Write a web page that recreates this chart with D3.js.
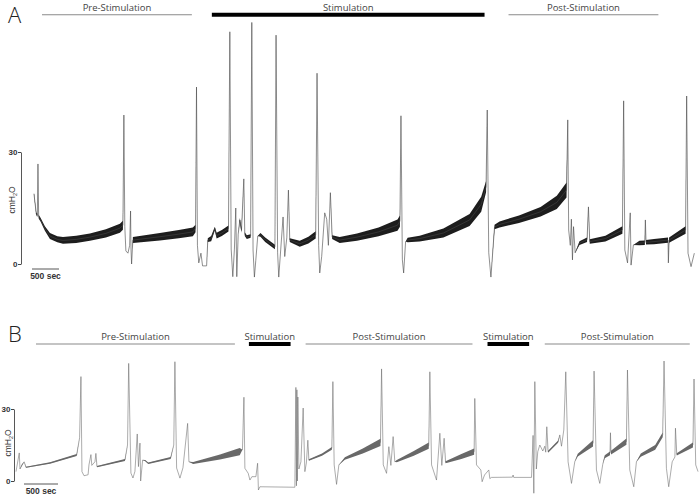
<!DOCTYPE html>
<html><head><meta charset="utf-8">
<script src="https://cdn.jsdelivr.net/npm/d3@7"></script>
<style>body{margin:0;background:#fff}svg{display:block}</style>
</head><body>
<svg id="c" width="700" height="496"></svg>
<script>
// ---- data: [time (sec), pressure (cmH2O), noise half-band (cmH2O)] ----
const traceA = [
[18,18.8,0.3],[60,13.5,0.3],[80,13.0,0.5],[92,26.8,0],[105,12.7,0.5],[142,11.8,0.5],[220,9.5,0.6],[314,7.5,0.8],
[450,6.6,0.8],[555,6.3,0.9],[800,6.6,1.0],[1054,7.2,1.0],[1350,8.2,1.1],[1610,9.6,1.2],[1665,10.4,1.2],[1683,39.9,0],
[1700,10,0],[1720,3.5,0],[1758,2.9,0],[1790,5,0],[1807,14.2,0],[1815,4,0],[1826,0,0],[1840,4,0],[1850,6.4,0.8],
[2350,7.3,1.0],[2700,8.0,1.1],[2960,8.6,1.2],[3010,9.5,1],[3028,47.4,0],[3045,5,0],[3070,0.3,0],[3110,2.9,0],
[3140,-0.5,0],[3215,-0.5,0],[3237,6.4,0.5],[3300,6.8,0.7],[3367,9.5,0.5],[3400,7.6,0.8],[3497,8.3,0.8],[3620,9.5,0.8],
[3645,62.2,0],[3670,4,0],[3700,-3.4,0],[3730,4,0],[3755,15,0],[3774,-3.4,0],[3800,8,0],[3830,11.8,0.5],[3861,9.0,0.6],
[3904,22.8,0],[3922,8.0,0.5],[3959,7.2,0.5],[4030,7.5,0.5],[4052,64.7,0],[4075,3.75,0],[4100,-3.5,0],[4126,1,0],
[4162,7.5,0],[4212,7.8,0.5],[4300,6.5,0.6],[4480,4.55,0.6],[4501,61.3,0],[4530,3,0],[4551,-3.5,0],[4588,4,0],
[4631,12.6,0],[4662,2,0],[4700,7,0],[4730,19.8,0],[4755,6.4,0.5],[4940,5.4,0.8],[5100,6.4,0.9],[5235,7.8,1.0],
[5260,51.1,0],[5290,5,0],[5310,-2.4,0],[5346,2,0],[5402,13.7,0],[5439,12,0],[5470,5,0],[5507,19.1,0],[5540,7.2,0.5],
[5680,6.4,0.8],[6000,7.2,1.0],[6400,8.6,1.2],[6750,10.4,1.5],[6795,11.5,1.5],[6814,39.7,0],[6840,1.1,0],[6864,-2.4,0],
[6900,6.0,0],[6938,6.4,0.6],[7160,6.8,0.8],[7600,8.3,1.2],[8085,11.8,1.6],[8300,16,2],[8390,20.7,1.5],[8412,41.25,0],
[8440,3,0],[8480,-3.5,0],[8547,9.9,0.6],[8640,10.6,0.8],[9000,12,1.0],[9400,14,1.3],[9700,16.5,1.8],[9880,19.8,2],
[9903,38.6,0],[9920,9.1,0],[9950,5,0],[9970,12,0],[9990,1.1,0],[10010,10,0],[10040,3,0],[10120,5.6,0.5],[10260,6.5,0.6],
[10286,15.3,0],[10310,6.0,0.6],[10600,6.8,0.8],[10915,9.1,1.0],[10938,43.7,0],[10960,3.75,0],[11010,0.3,0],[11060,13.7,0],
[11075,-0.3,0],[11118,5.1,0],[11230,5.6,0.6],[11330,5.7,0.6],[11340,11.8,0],[11353,5.8,0.6],[11500,6.0,0.7],[11760,6.4,0.7],
[11766,0.3,0],[11780,6.4,0.7],[12085,9.1,1.0],[12105,45,0],[12130,2.9,0],[12186,-0.7,0],[12247,2.9,0]
];
const traceB = [
[0,3.9,0],[48,11.7,0],[59,5,0],[88,6.7,0.3],[120,8,0],[147,5.7,0.2],[500,7.5,0.3],[892,10.8,0.4],[935,18,0],[955,43.5,0],
[970,3.9,0],[1000,2.2,0],[1060,2.6,0],[1073,6.7,0],[1102,11,0],[1115,6.5,0],[1161,8,0],[1175,11.5,0],[1191,6,0.3],
[1602,8.75,0.4],[1640,15,0],[1657,49,0],[1690,3.3,0],[1720,1.25,0],[1749,4,0],[1783,19.6,0],[1801,6,0],[1823,15.8,0],
[1833,0,0],[1862,8.75,0],[1900,8.5,0.3],[1945,7.4,0.3],[2274,9.6,0.4],[2320,15,0],[2337,49.7,0],[2362,5.4,0],[2411,1.2,0],
[2455,5.5,0],[2524,24,0],[2543,8,0],[2606,7.5,0.4],[3000,10,1.0],[3290,12.2,1.5],[3330,13,0],[3352,34.9,0],[3366,5.3,0],
[3415,3.2,0],[3440,0.4,0],[3469,1.8,0],[3528,1.8,0],[3553,7.4,0],[3565,-3.75,0],[3587,-2.4,0],[4101,-2.6,0],[4116,39,0],
[4124,-2,0],[4131,38,0],[4138,0,0],[4145,35,0],[4160,5,0],[4190,8,0],[4223,30.4,0],[4248,3.9,0],[4270,7.5,0],[4292,17,0],
[4307,8.75,0.3],[4500,11,0.5],[4645,13.6,0.6],[4660,41.4,0],[4679,6.7,0],[4714,-1.4,0],[4748,6.7,0],[4836,9.4,0.5],
[5100,12.5,1.0],[5360,16.1,1.5],[5376,46.7,0],[5401,6.7,0],[5449,3.2,0],[5483,14.3,0],[5513,6.5,0],[5546,18.5,0],[5571,8,0],
[5600,8.3,0.5],[5850,11.5,1.0],[6070,14.7,1.3],[6086,45.5,0],[6111,6.7,0],[6184,0.4,0],[6233,19.9,0],[6262,6.5,0],
[6296,17.8,0],[6317,7.8,0.4],[6550,10.2,1.0],[6737,12.2,1.3],[6747,34.4,0],[6772,6.7,0],[6836,4.6,0],[6855,-0.3,0],
[6890,2.5,0],[6953,4.6,0],[6968,1.0,0],[6993,1.5,0],[7300,1.6,0],[7310,2.5,0],[7320,1.5,0],[7581,1.5,0],[7604,19,0],
[7615,-5.1,0],[7630,41.4,0],[7652,5,0],[7673,12.2,0],[7703,15,0],[7747,12.5,0],[7776,14.5,0],[7790,12,0],[7806,22.6,0],
[7825,12.2,0.4],[7972,16.4,0.5],[7997,19.2,0],[8022,14.5,0],[8056,21.25,0],[8085,45.5,0],[8119,8,0],[8169,-1,0],[8217,8,0],
[8261,10.8,0.6],[8486,15.7,1.3],[8501,45.8,0],[8536,4.6,0],[8585,-1,0],[8629,7,0],[8658,10.1,0.6],[8735,11.5,0.8],
[8742,20.1,0],[8750,11.8,0.8],[8977,16.4,1.3],[8992,46.25,0],[9026,4.6,0],[9085,-2.4,0],[9124,8,0],[9188,10.8,0.7],
[9400,14,1.0],[9510,19.2,1.0],[9530,50,0],[9565,5.3,0],[9599,-2.4,0],[9650,8,0],[9690,10,0],[9698,22,0],[9717,11.1,0.5],
[9955,15,1.0],[9971,42.5,0],[9996,6.7,0],[10030,3.9,0]
];
// phase annotations: [label, start sec, end sec, kind]
const phasesA = [["Pre-Stimulation",167,2942,"thin"],["Stimulation",3312,8362,"bar"],["Post-Stimulation",8806,11581,"thin"]];
const phasesB = [["Pre-Stimulation",294,3219,"thin"],["Stimulation",3425,4038,"bar"],["Post-Stimulation",4259,6713,"thin"],
                 ["Stimulation",6934,7546,"bar"],["Post-Stimulation",7776,9908,"thin"]];
const yTicks = [0, 30];
const scaleBarSec = 500;

const svg = d3.select("#c");

function panel(cfg){
  const g = svg.append("g");
  const x = d3.scaleLinear().domain([0, cfg.tMax]).range([cfg.x0, cfg.x1]);
  const y = d3.scaleLinear().domain([0, 30]).range([cfg.y0, cfg.y30]);
  g.append("text").attr("x", 8).attr("y", cfg.letterY).text(cfg.letter)
    .style("font-family","'Open Sans',sans-serif").style("font-weight",300).style("font-size","22px").attr("fill","#222");
  cfg.phases.forEach(p=>{
    const xa = x(p[1]), xb = x(p[2]);
    g.append("line").attr("x1",xa).attr("x2",xb).attr("y1",cfg.barY).attr("y2",cfg.barY)
      .attr("stroke", p[3]==="bar" ? "#000" : "#8a8a8a").attr("stroke-width", p[3]==="bar" ? 4 : 1.1);
    g.append("text").attr("x",(xa+xb)/2).attr("y",cfg.barY-4).attr("text-anchor","middle").text(p[0])
      .style("font-family","'Open Sans',sans-serif").style("font-size","9.5px").attr("fill","#444");
  });
  const ax = g.append("g").attr("transform",`translate(${cfg.axisX},0)`)
    .call(d3.axisLeft(y).tickValues(yTicks).tickSize(3).tickSizeOuter(0));
  ax.select(".domain").attr("stroke","#444").attr("stroke-width",0.9);
  ax.selectAll(".tick line").attr("stroke","#444");
  ax.selectAll(".tick text").attr("dx","0.3em").style("font-family","'Liberation Sans',Arial,sans-serif")
    .style("font-weight","bold").style("font-size","8px").attr("fill","#333");
  const lab = g.append("text").attr("transform",`translate(${cfg.labX},${cfg.labY}) rotate(-90)`)
    .attr("text-anchor","middle").style("font-family","'Liberation Sans',Arial,sans-serif")
    .style("font-size","8.5px").attr("fill","#333");
  lab.append("tspan").text("cmH");
  lab.append("tspan").text("2").attr("dy","2").style("font-size","5.5px");
  lab.append("tspan").text("O").attr("dy","-2");
  const sbx = cfg.sbX, sbw = x(scaleBarSec)-x(0);
  g.append("line").attr("x1",sbx).attr("x2",sbx + sbw).attr("y1",cfg.sbY).attr("y2",cfg.sbY)
    .attr("stroke","#444").attr("stroke-width",0.9);
  g.append("text").attr("x",sbx + sbw/2).attr("y",cfg.sbY+10).attr("text-anchor","middle")
    .text(scaleBarSec+" sec").style("font-family","'Liberation Sans',Arial,sans-serif")
    .style("font-weight","bold").style("font-size","8.5px").attr("fill","#333");
  const area = d3.area().x(d=>x(d[0])).y0(d=>y(d[1]-d[2])).y1(d=>y(d[1]+d[2]));
  g.append("path").datum(cfg.data).attr("d",area).attr("fill",cfg.bandColor).attr("fill-opacity",cfg.bandOp);
  const line = d3.line().x(d=>x(d[0])).y(d=>y(d[1]));
  g.append("path").datum(cfg.data).attr("d",line).attr("fill","none")
    .attr("stroke",cfg.lineColor).attr("stroke-width",cfg.lineW).attr("stroke-linejoin","miter").attr("stroke-miterlimit",2);
}

panel({letter:"A", letterY:23, data:traceA, phases:phasesA, tMax:12000, x0:33, x1:33+648,
  y0:264, y30:152, barY:14.7, axisX:21, labX:15, labY:200, sbX:32, sbY:269,
  bandColor:"#111", bandOp:0.95, lineColor:"#444", lineW:0.6});
panel({letter:"B", letterY:342, data:traceB, phases:phasesB, tMax:10000, x0:16, x1:16+680,
  y0:481, y30:409, barY:344, axisX:14, labX:11, labY:443, sbX:24, sbY:484,
  bandColor:"#444", bandOp:0.8, lineColor:"#666", lineW:0.55});
</script>
</body></html>
